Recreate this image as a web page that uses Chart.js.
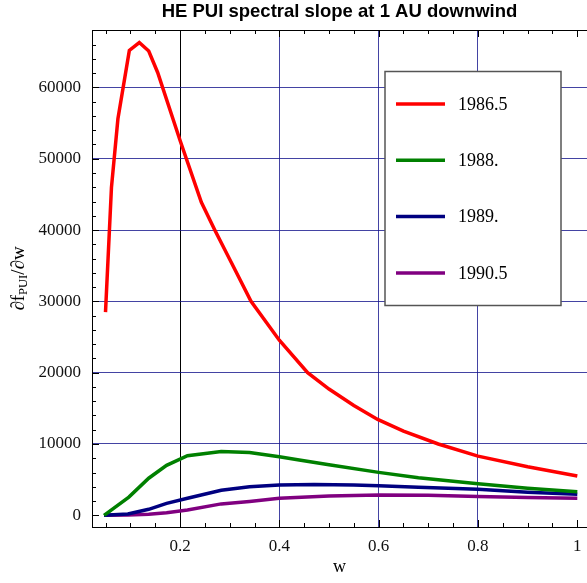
<!DOCTYPE html>
<html lang="en">
<head>
<meta charset="UTF-8">
<title>HE PUI spectral slope</title>
<style>
  body { margin: 0; background: #fff; }
  #chart-container { width: 587px; height: 583px; }
</style>
</head>
<body>
<div id="chart-container"><canvas id="slope-chart"></canvas></div>
<script src="https://cdn.jsdelivr.net/npm/chart.js"></script>
<script>
// chart text
const titleText = 'HE PUI spectral slope at 1 AU downwind';
const xLabel = 'w';
const seriesLabels = ['1986.5', '1988.', '1989.', '1990.5'];
const seriesColors = ['#ff0000', '#008000', '#000080', '#800080'];

// values
const w1986 = [0.05, 0.062, 0.075, 0.098, 0.118, 0.137, 0.155, 0.2, 0.243, 0.27, 0.3, 0.343, 0.4, 0.457, 0.5, 0.55, 0.598, 0.65, 0.72, 0.8, 0.9, 1.0];
const f1986 = [28500, 46000, 55600, 65200, 66300, 65100, 62100, 52600, 43900, 40000, 35900, 30000, 24550, 20000, 17700, 15400, 13450, 11800, 10000, 8300, 6800, 5500];

const w1988 = [0.047, 0.097, 0.137, 0.173, 0.215, 0.283, 0.34, 0.4, 0.44, 0.5, 0.6, 0.68, 0.8, 0.9, 1.0];
const f1988 = [0, 2550, 5200, 7000, 8350, 8950, 8800, 8200, 7750, 7100, 6020, 5270, 4430, 3800, 3310];

const w1989 = [0.047, 0.095, 0.137, 0.173, 0.215, 0.283, 0.34, 0.4, 0.47, 0.55, 0.6, 0.68, 0.8, 0.9, 1.0];
const f1989 = [0, 180, 840, 1680, 2400, 3500, 4000, 4240, 4320, 4250, 4150, 3920, 3650, 3250, 2940];

const w1990 = [0.047, 0.095, 0.137, 0.173, 0.215, 0.283, 0.34, 0.4, 0.5, 0.6, 0.7, 0.8, 0.9, 1.0];
const f1990 = [0, 50, 150, 370, 750, 1600, 1950, 2380, 2700, 2840, 2800, 2650, 2500, 2380];

const xTickValues = [0.2, 0.4, 0.6, 0.8, 1];
const yTickValues = [0, 10000, 20000, 30000, 40000, 50000, 60000];

const seriesW = [w1986, w1988, w1989, w1990];
const seriesF = [f1986, f1988, f1989, f1990];

const serif = '"Liberation Serif", "DejaVu Serif", serif';
const gridBlue = 'rgba(20, 20, 140, 0.8)';

// title, axis labels and the inward frame ticks
const framePlugin = {
    id: 'frame',
    beforeDatasetsDraw(chart) {
        const c = chart.ctx;
        const a = chart.chartArea;
        const xs = chart.scales.x;
        const ys = chart.scales.y;
        c.save();
        c.strokeStyle = '#000';
        c.lineWidth = 1;
        c.beginPath();
        c.moveTo(a.left, a.top + 0.5);
        c.lineTo(a.right, a.top + 0.5);
        for (let i = 1; i <= 20; i++) {
            const v = i * 0.05;
            const px = Math.round(xs.getPixelForValue(v)) + 0.5;
            const len = (i % 4 === 0) ? 7 : 4;
            c.moveTo(px, a.top);
            c.lineTo(px, a.top + len);
            c.moveTo(px, a.bottom);
            c.lineTo(px, a.bottom - len);
        }
        for (let v = 0; v <= 68000; v += 2000) {
            const py = Math.round(ys.getPixelForValue(v)) + 0.5;
            const len = (v % 10000 === 0) ? 7 : 4;
            c.moveTo(a.left, py);
            c.lineTo(a.left + len, py);
        }
        c.stroke();
        c.restore();
    },
    afterDraw(chart) {
        const c = chart.ctx;
        const a = chart.chartArea;
        c.save();
        c.fillStyle = '#000';
        c.textAlign = 'center';
        c.textBaseline = 'middle';
        c.font = 'bold 18.5px "Liberation Sans", Arial, sans-serif';
        c.fillText(titleText, (a.left + a.right) / 2, 12);

        c.font = '18px ' + serif;
        c.textBaseline = 'alphabetic';
        c.fillText(xLabel, (a.left + a.right) / 2, 572);

        // y label: ∂f_PUI/∂w rotated
        c.translate(24, (a.top + a.bottom) / 2);
        c.rotate(-Math.PI / 2);
        const big = '19px ' + serif;
        const small = '12.5px ' + serif;
        const parts = [['\u2202f', big, 0], ['PUI', small, 3], ['/\u2202w', big, 0]];
        let total = 0;
        parts.forEach(p => { c.font = p[1]; total += c.measureText(p[0]).width; });
        let x = -total / 2;
        c.textAlign = 'left';
        parts.forEach(p => {
            c.font = p[1];
            c.fillText(p[0], x, p[2]);
            x += c.measureText(p[0]).width;
        });
        c.restore();
    }
};

// boxed legend in the upper right
const legendPlugin = {
    id: 'boxLegend',
    afterDraw(chart) {
        const c = chart.ctx;
        const a = chart.chartArea;
        const left = a.left + 293;
        const top = a.top + 41.5;
        const width = 176;
        const height = 234;
        c.save();
        c.fillStyle = '#fff';
        c.fillRect(left, top, width, height);
        c.strokeStyle = '#555';
        c.lineWidth = 1.5;
        c.strokeRect(left, top, width, height);
        c.font = '18px ' + serif;
        c.textBaseline = 'middle';
        c.textAlign = 'left';
        seriesLabels.forEach((label, i) => {
            const y = top + 32.5 + i * 56.3;
            c.strokeStyle = seriesColors[i];
            c.lineWidth = 3.5;
            c.beginPath();
            c.moveTo(left + 11, y);
            c.lineTo(left + 60, y);
            c.stroke();
            c.fillStyle = '#000';
            c.fillText(label, left + 73, y + 1);
        });
        c.restore();
    }
};

const datasets = seriesLabels.map((label, i) => ({
    label: label,
    data: seriesW[i].map((w, j) => ({ x: w, y: seriesF[i][j] })),
    borderColor: seriesColors[i],
    borderWidth: 3.5,
    pointRadius: 0,
    tension: 0,
    fill: false
}));

new Chart(document.getElementById('slope-chart'), {
    type: 'line',
    data: { datasets: datasets },
    options: {
        responsive: true,
        maintainAspectRatio: false,
        animation: false,
        layout: { autoPadding: false, padding: { top: 30, left: 0, right: 0, bottom: 0 } },
        plugins: {
            legend: { display: false },
            title: { display: false },
            tooltip: { enabled: false }
        },
        scales: {
            x: {
                type: 'linear',
                min: 0.0228,
                max: 1.0195,
                afterBuildTicks: s => { s.ticks = xTickValues.map(v => ({ value: v })); },
                afterFit: s => { s.height = 56; s.paddingLeft = 0; s.paddingRight = 0; },
                ticks: {
                    callback: v => String(v),
                    font: { family: serif, size: 17 },
                    color: '#111',
                    padding: 9,
                    maxRotation: 0,
                    autoSkip: false
                },
                grid: {
                    drawTicks: false,
                    lineWidth: 1,
                    color: ctx => ctx.tick && ctx.tick.value === 0.2 ? '#000' :
                        (ctx.tick && ctx.tick.value >= 1 ? 'rgba(0,0,0,0)' : gridBlue)
                },
                border: { display: true, color: '#000', width: 1 }
            },
            y: {
                type: 'linear',
                min: -1640,
                max: 68055,
                afterBuildTicks: s => { s.ticks = yTickValues.map(v => ({ value: v })); },
                afterFit: s => { s.width = 92; s.paddingTop = 0; s.paddingBottom = 0; },
                ticks: {
                    callback: v => String(v),
                    font: { family: serif, size: 17 },
                    color: '#111',
                    padding: 11,
                    autoSkip: false
                },
                grid: {
                    drawTicks: false,
                    lineWidth: 1,
                    color: ctx => ctx.tick && ctx.tick.value === 0 ? 'rgba(0,0,0,0)' : gridBlue
                },
                border: { display: true, color: '#000', width: 1 }
            }
        }
    },
    plugins: [framePlugin, legendPlugin]
});
</script>
</body>
</html>
